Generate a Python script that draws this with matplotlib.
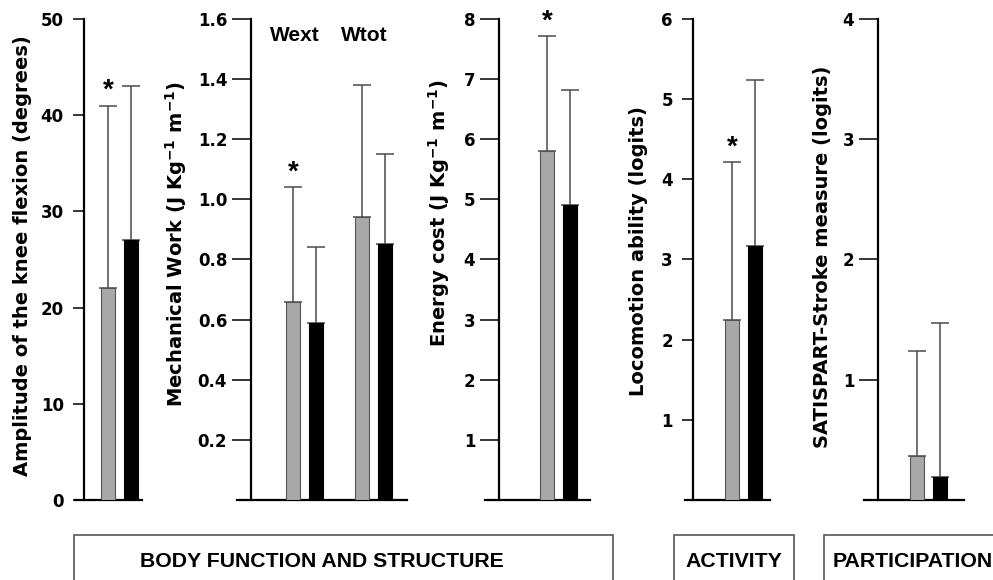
import matplotlib
matplotlib.use('Agg')
import matplotlib.pyplot as plt
from matplotlib.patches import Rectangle

plt.rcParams['font.family'] = ['DejaVu Sans']
plt.rcParams['font.weight'] = 'bold'
plt.rcParams['mathtext.fontset'] = 'dejavusans'
plt.rcParams['mathtext.default'] = 'bf'

# ---------------- data ----------------
knee_mean = [22.0, 27.0]
knee_sd = [19.0, 16.0]

work_groups = ['Wext', 'Wtot']
work_gray_mean = [0.66, 0.94]
work_gray_sd = [0.38, 0.44]
work_black_mean = [0.59, 0.85]
work_black_sd = [0.25, 0.30]

energy_mean = [5.81, 4.90]
energy_sd = [1.90, 1.92]

loco_mean = [2.24, 3.17]
loco_sd = [1.97, 2.07]

satis_mean = [0.37, 0.19]
satis_sd = [0.87, 1.28]

ylabels = [
    'Amplitude of the knee flexion (degrees)',
    r'Mechanical Work (J Kg$^{-1}$ m$^{-1}$)',
    r'Energy cost (J Kg$^{-1}$ m$^{-1}$)',
    'Locomotion ability (logits)',
    'SATISPART-Stroke measure (logits)',
]
yticks_knee = [0, 10, 20, 30, 40, 50]
yticks_work = [0.2, 0.4, 0.6, 0.8, 1.0, 1.2, 1.4, 1.6]
yticks_energy = [1, 2, 3, 4, 5, 6, 7, 8]
yticks_loco = [1, 2, 3, 4, 5, 6]
yticks_satis = [1, 2, 3, 4]
sections = ['BODY FUNCTION AND STRUCTURE', 'ACTIVITY', 'PARTICIPATION']

# ---------------- layout ----------------
W, H = 993, 580
fig = plt.figure(figsize=(W / 100, H / 100), dpi=100)


def fx(px):
    return px / W


def fy(py):
    return 1 - py / H


UNIT = 23.0  # pixels per category unit
AX_TOP, AX_BOT = 19, 500

panels = [
    dict(gray=[knee_mean[0]], gray_sd=[knee_sd[0]], black=[knee_mean[1]], black_sd=[knee_sd[1]],
         star=[True], groups=None, ylim=(0, 50), ticks=yticks_knee, fmt='{:g}',
         px=(75, 142, 84, 119.5), tl=8, pad=6.5, lab=(22.5, 256)),
    dict(gray=work_gray_mean, gray_sd=work_gray_sd, black=work_black_mean, black_sd=work_black_sd,
         star=[True, False], groups=work_groups, ylim=(0, 1.6), ticks=yticks_work, fmt='{:.1f}',
         px=(237, 407, 251, 304.5), tl=13.5, pad=3.6, lab=(176.5, 243.5)),
    dict(gray=[energy_mean[0]], gray_sd=[energy_sd[0]], black=[energy_mean[1]], black_sd=[energy_sd[1]],
         star=[True], groups=None, ylim=(0, 8), ticks=yticks_energy, fmt='{:g}',
         px=(485, 590, 499, 558.75), tl=13.5, pad=3.6, lab=(439, 213.5)),
    dict(gray=[loco_mean[0]], gray_sd=[loco_sd[0]], black=[loco_mean[1]], black_sd=[loco_sd[1]],
         star=[True], groups=None, ylim=(0, 6), ticks=yticks_loco, fmt='{:g}',
         px=(685, 770, 693, 743.5), tl=8, pad=6.5, lab=(638.5, 251)),
    dict(gray=[satis_mean[0]], gray_sd=[satis_sd[0]], black=[satis_mean[1]], black_sd=[satis_sd[1]],
         star=[False], groups=None, ylim=(0, 4), ticks=yticks_satis, fmt='{:g}',
         px=(864, 964, 878, 928.3), tl=13.5, pad=3.6, lab=(822, 256.5)),
]

GRAY = '#a8a8a8'
ERR = '#4a4a4a'
BW = 0.63

for p, ylab in zip(panels, ylabels):
    x0, x1, sp, gc = p['px']
    ax = fig.add_axes([fx(x0), fy(AX_BOT), (x1 - x0) / W, (AX_BOT - AX_TOP) / H])
    ax.set_xlim((x0 - gc) / UNIT, (x1 - gc) / UNIT)
    ax.set_ylim(*p['ylim'])
    ax.patch.set_alpha(0)
    ng = len(p['gray'])
    pos = [3 * i for i in range(ng)]
    xg = [c - 0.5 for c in pos]
    xb = [c + 0.5 for c in pos]
    ax.bar(xg, p['gray'], width=BW, color=GRAY, edgecolor='#555555', linewidth=0.8, zorder=3)
    ax.bar(xb, p['black'], width=BW, color='black', edgecolor='black', linewidth=0.8, zorder=3)
    ax.errorbar(xg, p['gray'], yerr=[[0] * ng, p['gray_sd']], fmt='none', ecolor=ERR,
                elinewidth=1.1, capsize=6.2, capthick=1.1, zorder=2)
    ax.errorbar(xb, p['black'], yerr=[[0] * ng, p['black_sd']], fmt='none', ecolor=ERR,
                elinewidth=1.1, capsize=6.2, capthick=1.1, zorder=2)
    for i, s in enumerate(p['star']):
        if s:
            top = p['gray'][i] + p['gray_sd'][i]
            ax.annotate('*', (xg[i], top), xytext=(0, 5.5), textcoords='offset points',
                        ha='center', va='baseline', fontsize=20, fontweight='bold',
                        family='Liberation Sans', annotation_clip=False)
    if p['groups']:
        ytxt = p['ylim'][1] * (AX_BOT - 41.5) / (AX_BOT - AX_TOP)
        for i, g in enumerate(p['groups']):
            ax.text(pos[i] - 0.42, ytxt, g, ha='center', va='baseline', fontsize=15,
                    fontweight='bold', family='Liberation Sans')
    for s in ['top', 'right']:
        ax.spines[s].set_visible(False)
    ax.spines['left'].set_position(('data', (sp - gc) / UNIT))
    ax.spines['left'].set_linewidth(1.6)
    ax.spines['bottom'].set_linewidth(1.6)
    ax.set_xticks([])
    ax.set_yticks(p['ticks'])
    ax.set_yticklabels([p['fmt'].format(t) for t in p['ticks']])
    ax.tick_params(axis='y', direction='out', length=p['tl'], width=1.1, pad=p['pad'],
                   labelsize=12)
    for lbl in ax.get_yticklabels():
        lbl.set_fontweight('bold')
    fig.text(fx(p['lab'][0]), fy(p['lab'][1]), ylab, rotation=90, ha='center', va='center',
             fontsize=14, fontweight='bold')

# ---------------- section boxes ----------------
boxes = [(74, 613, 322), (674, 794, 734), (824, 1010, 833)]
for (bx0, bx1, tx), name in zip(boxes, sections):
    fig.add_artist(Rectangle((fx(bx0), fy(600)), (bx1 - bx0) / W, (600 - 535) / H,
                             transform=fig.transFigure, fill=False, edgecolor='#555555',
                             linewidth=1.2))
    ha = 'left' if name == 'PARTICIPATION' else 'center'
    fig.text(fx(tx), fy(566.7), name, ha=ha, va='baseline', fontsize=15.3,
             fontweight='bold', family='Liberation Sans')

fig.savefig('out.png', dpi=100)
